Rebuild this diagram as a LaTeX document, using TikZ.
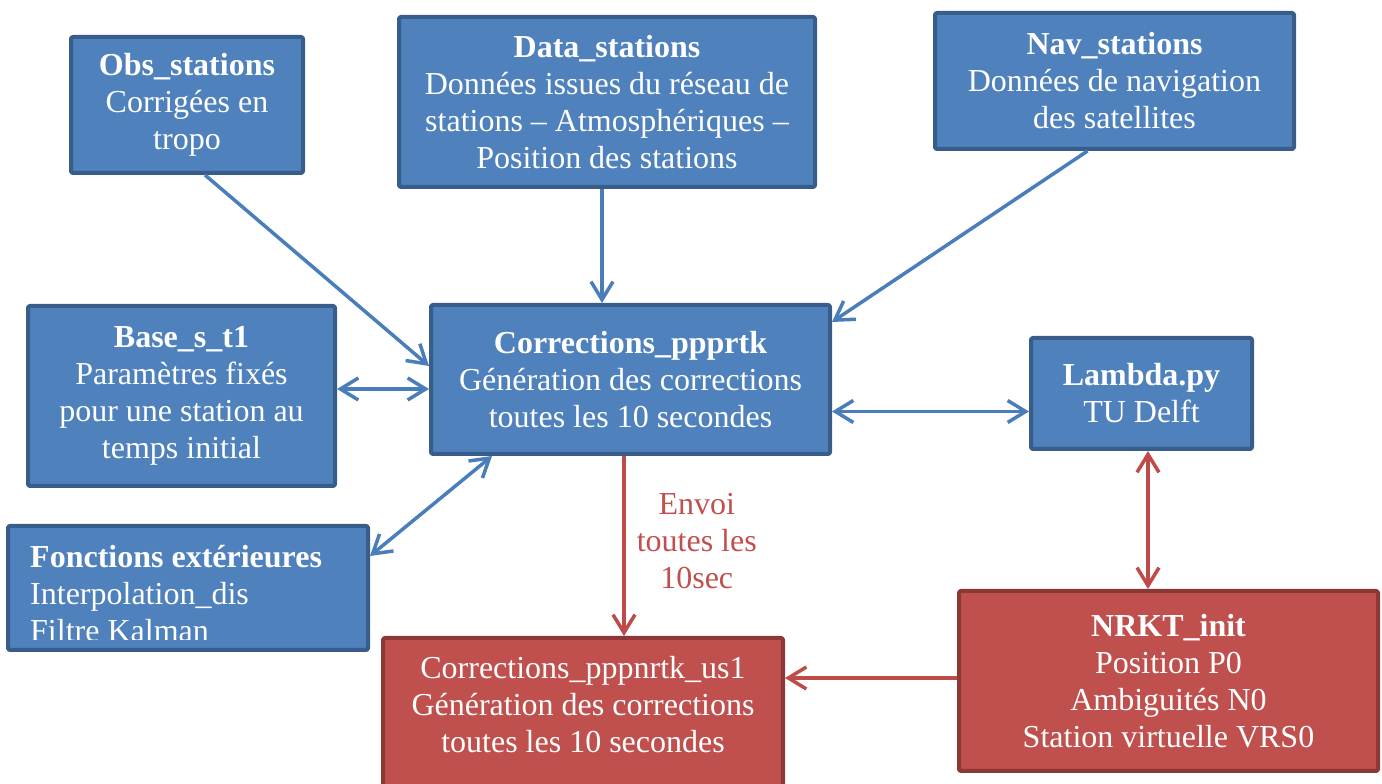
\documentclass[tikz,border=0pt]{standalone}
\usepackage{fontspec}
\setmainfont{Liberation Serif}
\usetikzlibrary{arrows.meta}
\definecolor{bleu}{HTML}{4F81BD}
\definecolor{bleufonce}{HTML}{385D8A}
\definecolor{fleche}{HTML}{4A7EBB}
\definecolor{rouge}{HTML}{C0504D}
\definecolor{rougefonce}{HTML}{8C3836}
\definecolor{flecherouge}{HTML}{BE4B48}
\begin{document}
\begin{tikzpicture}[x=1pt,y=1pt,line join=round,font=\fontsize{32}{37}\selectfont,
	>={Straight Barb[length=18pt,width=22pt]},
	boite/.style={draw=bleufonce,fill=bleu,line width=4pt,rounded corners=2pt,text=white,align=center,inner sep=0pt},
	boiterouge/.style={boite,draw=rougefonce,fill=rouge},
	fl/.style={draw=fleche,line width=3.5pt},
	flr/.style={draw=flecherouge,line width=3.5pt}]
	\useasboundingbox (0,0) rectangle (1382,784);
	\node[boite,minimum width=232pt,minimum height=136pt] (obs) at (187,679) {\textbf{Obs\_stations}\\Corrigées en\\tropo};
	\node[boite,minimum width=416pt,minimum height=170pt] (data) at (607,682) {\textbf{Data\_stations}\\Données issues du réseau de\\stations – Atmosphériques –\\Position des stations};
	\node[boite,minimum width=359pt,minimum height=136pt] (nav) at (1114.5,703) {\textbf{Nav\_stations}\\Données de navigation\\des satellites};
	\node[boite,minimum width=307pt,minimum height=180pt] (base) at (181.5,388) {\textbf{Base\_s\_t1}\\Paramètres fixés\\pour une station au\\temps initial};
	\node[boite,minimum width=399pt,minimum height=149pt] (corr) at (630.5,404.5) {\textbf{Corrections\_ppprtk}\\Génération des corrections\\toutes les 10 secondes};
	\node[boite,minimum width=221pt,minimum height=111pt] (lambda) at (1141.5,390.5) {\textbf{Lambda.py}\\TU Delft};
	\node[boiterouge,minimum width=419pt,minimum height=180pt] (nrkt) at (1168.5,103) {\textbf{NRKT\_init}\\Position P0\\Ambiguités N0\\Station virtuelle VRS0};
	\node[boiterouge,minimum width=400pt,minimum height=160pt] (us1) at (583,66) {};
	\node[text=white,align=center,inner sep=0pt] (us1txt) at (583,79) {Corrections\_pppnrtk\_us1\\Génération des corrections\\toutes les 10 secondes};
	\node[boite,minimum width=360pt,minimum height=124pt] (fonct) at (188,196) {};
	\begin{scope}
		\clip (10,144) rectangle (366,256);
		\node[text=white,align=left,inner sep=0pt,anchor=west] (fonctxt) at (30,190) {\textbf{Fonctions extérieures}\\Interpolation\_dis\\Filtre Kalman};
	\end{scope}
	% liaisons
	\draw[fl,->] ([xshift=18pt]obs.south) -- ([yshift=13.5pt]corr.west);
	\draw[fl,->] ([xshift=-5pt]data.south) -- ([xshift=-5pt]data.south |- corr.north);
	\draw[fl,->] ([xshift=-27pt]nav.south) -- ([yshift=-19pt]corr.north east);
	\draw[fl,<->] ([yshift=7pt]base.east) -- ([yshift=7pt]base.east -| corr.west);
	\draw[fl,<->] ([yshift=-32pt]fonct.north east) -- ([xshift=63pt]corr.south west);
	\draw[fl,<->] ([yshift=-32pt]corr.east) -- ([yshift=-32pt]corr.east -| lambda.west);
	\draw[flr,->] ([xshift=-6.5pt]corr.south) -- ([xshift=-6.5pt]corr.south |- us1.north)
		node[pos=0.47,right=11pt,text=rouge,align=center,inner sep=0pt] (envoi) {Envoi\\toutes les\\10sec};
	\draw[flr,<->] ([xshift=6.5pt]lambda.south) -- ([xshift=6.5pt]lambda.south |- nrkt.north);
	\draw[flr,->] ([yshift=3pt]nrkt.west) -- ([yshift=3pt]nrkt.west -| us1.east);
\end{tikzpicture}
\end{document}
